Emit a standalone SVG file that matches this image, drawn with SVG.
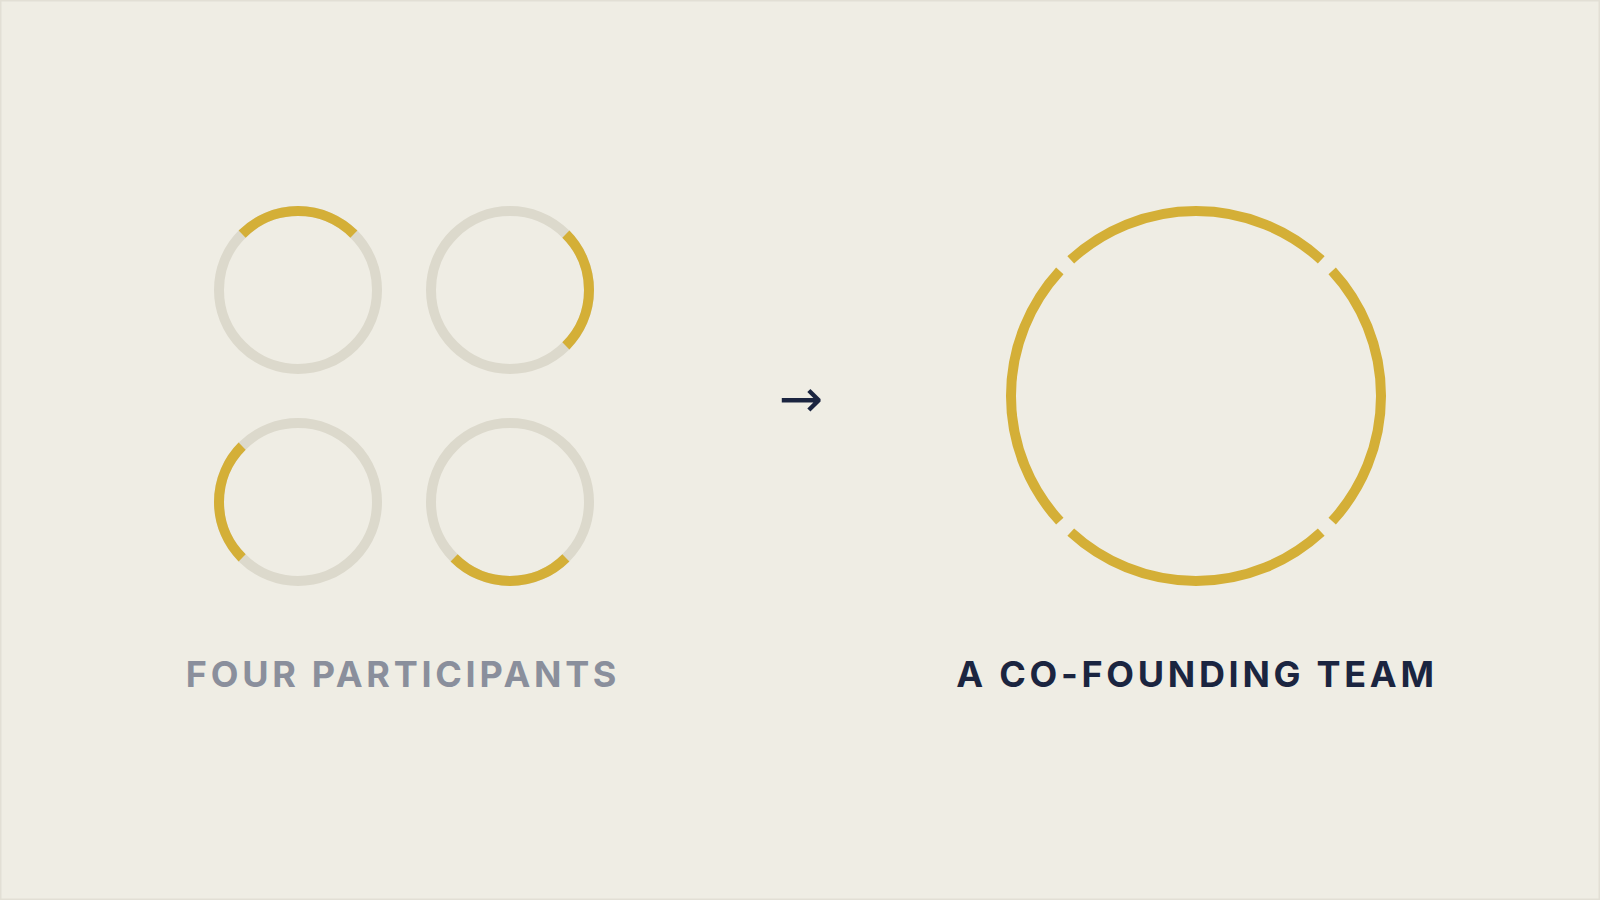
<svg xmlns="http://www.w3.org/2000/svg" width="1600" height="900" viewBox="0 0 1600 900">
  <style>
    .ring { fill: none; stroke: #dcd9cc; stroke-width: 10; }
    .gold { fill: none; stroke: #d4af37; stroke-width: 10; stroke-linecap: butt; }
    .label { font-family: Inter, "Liberation Sans", sans-serif; font-weight: 700; font-size: 36px; letter-spacing: 3.7px; text-anchor: middle; }
  </style>
  <rect x="0" y="0" width="1600" height="900" fill="#efede4"/>
  <rect x="0.75" y="0.75" width="1598.5" height="898.5" fill="none" stroke="#e2dfd5" stroke-width="1.5"/>

  <g id="participant-1">
    <circle class="ring" cx="298" cy="290" r="79"/>
    <path class="gold" d="M242.14,234.14 A79,79 0 0 1 353.86,234.14"/>
  </g>
  <g id="participant-2">
    <circle class="ring" cx="510" cy="290" r="79"/>
    <path class="gold" d="M565.86,234.14 A79,79 0 0 1 565.86,345.86"/>
  </g>
  <g id="participant-3">
    <circle class="ring" cx="298" cy="502" r="79"/>
    <path class="gold" d="M242.14,557.86 A79,79 0 0 1 242.14,446.14"/>
  </g>
  <g id="participant-4">
    <circle class="ring" cx="510" cy="502" r="79"/>
    <path class="gold" d="M565.86,557.86 A79,79 0 0 1 454.14,557.86"/>
  </g>

  <g id="connectors">
    <text x="801" y="417" font-family="'DejaVu Sans', sans-serif" font-size="53" fill="#1b2540" text-anchor="middle">→</text>
  </g>

  <g id="team">
    <path class="gold" d="M1070.77,259.82 A185,185 0 0 1 1321.23,259.82"/>
    <path class="gold" d="M1332.18,270.77 A185,185 0 0 1 1332.18,521.23"/>
    <path class="gold" d="M1321.23,532.18 A185,185 0 0 1 1070.77,532.18"/>
    <path class="gold" d="M1059.82,521.23 A185,185 0 0 1 1059.82,270.77"/>
  </g>

  <g id="label-left">
    <text class="label" x="403" y="687" fill="#8a8f9c">FOUR PARTICIPANTS</text>
  </g>
  <g id="label-right">
    <text class="label" x="1197" y="687" fill="#1b2540">A CO-FOUNDING TEAM</text>
  </g>
</svg>
